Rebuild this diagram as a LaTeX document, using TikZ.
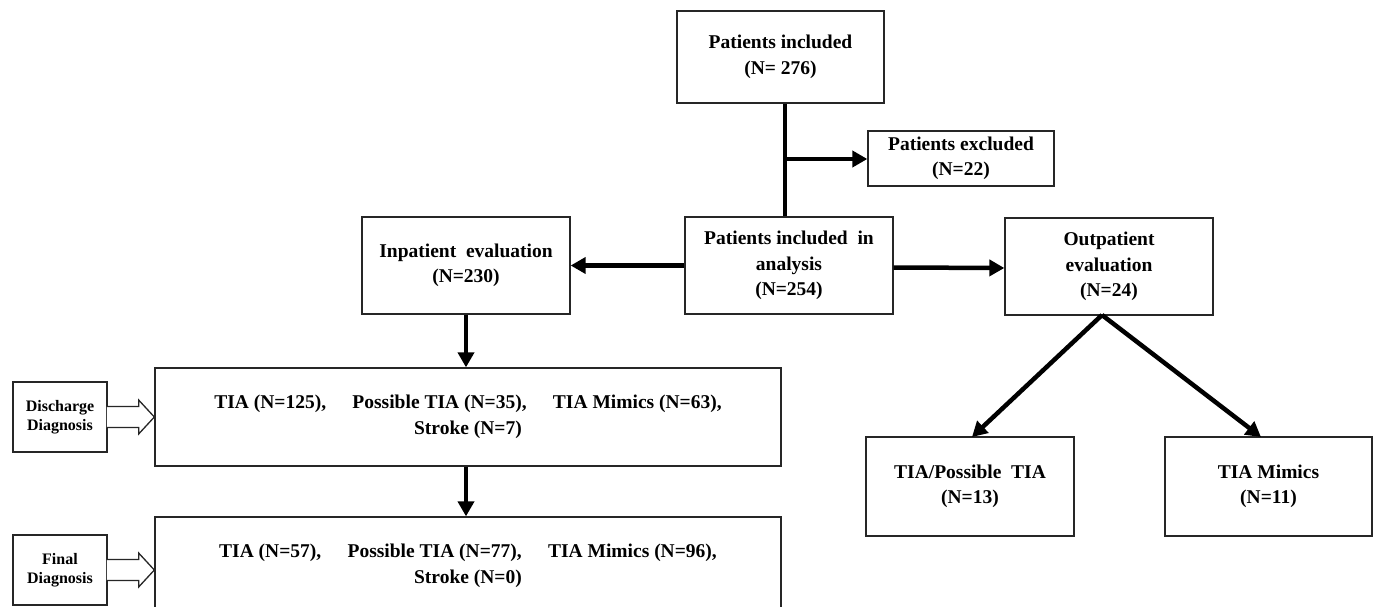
\documentclass[tikz,border=0pt]{standalone}
\usepackage{fontspec}
\setmainfont{Liberation Serif}
\usetikzlibrary{arrows.meta,calc}
\begin{document}
\begin{tikzpicture}[x=1pt,y=-1pt,
  box/.style={draw=black!85, line width=1.3pt, fill=white, align=center, inner sep=0pt,
    font=\fontsize{19.5}{25.5}\selectfont\bfseries},
  smallbox/.style={box, font=\fontsize{16}{19.5}\selectfont\bfseries},
  conn/.style={line width=4.5pt, black},
  arr/.style={conn, -{Triangle[length=15pt,width=16pt]}},
  blockarrow/.style={draw=black!85, line width=1.3pt, fill=white, line join=miter}]
\useasboundingbox (0,0) rectangle (1375,607);
\clip (0,0) rectangle (1375,607);
\fill[white] (0,0) rectangle (1375,607);

\node[box, minimum width=207pt, minimum height=92pt] (A) at (780.5,57) {Patients included\\(N= 276)};
\node[box, minimum width=186pt, minimum height=55pt] (B) at (961,158.5) {Patients excluded\\(N=22)};
\node[box, minimum width=208pt, minimum height=97pt] (C) at (789,265.5) {Patients included\ \ in\\analysis\\(N=254)};
\node[box, minimum width=208pt, minimum height=97pt] (D) at (466,265.5) {Inpatient\ \ evaluation\\(N=230)};
\node[box, minimum width=208pt, minimum height=97pt] (E) at (1109,266.5) {Outpatient\\evaluation\\(N=24)};
\node[box, minimum width=626pt, minimum height=98pt] (F) at (468,417) {TIA (N=125),\hspace{1.1em} Possible TIA (N=35),\hspace{1.1em} TIA Mimics (N=63),\\Stroke (N=7)};
\node[box, minimum width=626pt, minimum height=98pt] (G) at (468,566) {TIA (N=57),\hspace{1.1em} Possible TIA (N=77),\hspace{1.1em} TIA Mimics (N=96),\\Stroke (N=0)};
\node[smallbox, minimum width=94pt, minimum height=70pt] (H) at (60,417) {Discharge\\Diagnosis};
\node[smallbox, minimum width=94pt, minimum height=70pt] (I) at (60,570) {Final\\Diagnosis};
\node[box, minimum width=208pt, minimum height=99pt] (J) at (970,486.5) {TIA/Possible\ \ TIA\\(N=13)};
\node[box, minimum width=207pt, minimum height=99pt] (K) at (1268.5,486.5) {TIA Mimics\\(N=11)};

% exclusion branch
\coordinate (j) at (785,159);
\draw[conn] (A.south -| j) -- (C.north -| j);
\draw[arr] (j) -- (B.west |- j);

% analysis to inpatient / outpatient
\draw[arr] (C.west) -- (D.east);
\draw[arr] ($(C.east)+(0,2)$) -- ($(E.west)+(0,1.5)$);

% vertical flow
\draw[arr] (D.south) -- (F.north -| D.south);
\draw[arr] (F.south -| D.south) -- (G.north -| D.south);

% outpatient split
\coordinate (o) at (1102,315);
\coordinate (jt) at (972,437);
\coordinate (kt) at (1261,437);
\draw[arr] (o) -- (jt);
\draw[arr] (o) -- (kt);

% block arrows
\foreach \s/\t in {H/F, I/G}{
  \filldraw[blockarrow]
    ($(\s.east)+(-0.7,-10.5)$) -- ($(\s.east)+(31,-10.5)$) -- ($(\s.east)+(31,-17)$)
    -- (\t.west |- \s.east) -- ($(\s.east)+(31,17)$) -- ($(\s.east)+(31,10.5)$)
    -- ($(\s.east)+(-0.7,10.5)$);
}
\end{tikzpicture}
\end{document}
